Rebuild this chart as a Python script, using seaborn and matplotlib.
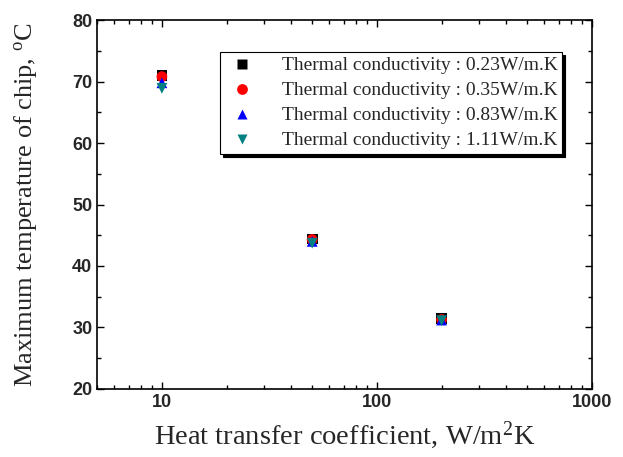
import pandas as pd
import matplotlib.pyplot as plt
import seaborn as sns
from matplotlib.ticker import FixedLocator, LogLocator, NullFormatter, MultipleLocator

# Data
h_coeff = [10, 50, 200]
k_labels = ["Thermal conductivity : 0.23W/m.K",
            "Thermal conductivity : 0.35W/m.K",
            "Thermal conductivity : 0.83W/m.K",
            "Thermal conductivity : 1.11W/m.K"]
temp_023 = [71.0, 44.4, 31.4]
temp_035 = [70.8, 44.3, 31.3]
temp_083 = [69.8, 44.0, 31.2]
temp_111 = [68.9, 43.7, 31.1]

rows = []
for lab, vals in zip(k_labels, [temp_023, temp_035, temp_083, temp_111]):
    for h, t in zip(h_coeff, vals):
        rows.append({"h": h, "T": t, "k": lab})
df = pd.DataFrame(rows)

sns.set_style("ticks")
plt.rcParams["font.family"] = ["Liberation Serif", "DejaVu Serif"]
plt.rcParams["mathtext.fontset"] = "custom"
plt.rcParams["mathtext.rm"] = "Liberation Serif"
plt.rcParams["mathtext.it"] = "Liberation Serif:italic"

fig = plt.figure(figsize=(6.23, 4.57), dpi=100)
ax = fig.add_axes([0.156, 0.149, 0.794, 0.807])

colors = ["black", "red", "blue", "#008080"]
markers = ["s", "o", "^", "v"]
sns.scatterplot(data=df, x="h", y="T", hue="k", style="k",
                palette=colors, markers=markers, s=60, edgecolor="none",
                ax=ax, legend=True)

ax.set_xscale("log")
ax.set_xlim(5, 1000)
ax.set_ylim(20, 80)
ax.xaxis.set_major_locator(FixedLocator([10, 100, 1000]))
ax.xaxis.set_minor_locator(LogLocator(base=10, subs=range(2, 10)))
ax.xaxis.set_minor_formatter(NullFormatter())
ax.set_xticklabels(["10", "100", "1000"])
ax.yaxis.set_major_locator(MultipleLocator(10))
ax.yaxis.set_minor_locator(MultipleLocator(5))

for side in ["top", "right", "left", "bottom"]:
    ax.spines[side].set_visible(True)
    ax.spines[side].set_linewidth(1.2)
    ax.spines[side].set_color("black")
ax.tick_params(which="both", direction="in", top=True, right=True, color="black")
ax.tick_params(which="major", length=5, width=1)
ax.tick_params(which="minor", length=3, width=1)
for lab in ax.get_xticklabels() + ax.get_yticklabels():
    lab.set_family("Liberation Sans")
    lab.set_fontweight("bold")
    lab.set_fontsize(13)

ax.set_xlabel("Heat transfer coefficient, W/m$^2$K", fontsize=20.5, labelpad=6)
ax.set_ylabel("Maximum temperature of chip, $^\\mathrm{o}$C", fontsize=19, labelpad=24)

leg = ax.legend(loc="upper right", bbox_to_anchor=(0.96, 0.94), fontsize=14,
                frameon=True, fancybox=False, shadow={"color": "black", "alpha": 1},
                edgecolor="black", handlelength=1.7, handletextpad=1.2,
                borderpad=0.25, labelspacing=0.38, markerscale=1.0)
leg.get_frame().set_linewidth(0.8)

fig.savefig("out.png", dpi=100)
